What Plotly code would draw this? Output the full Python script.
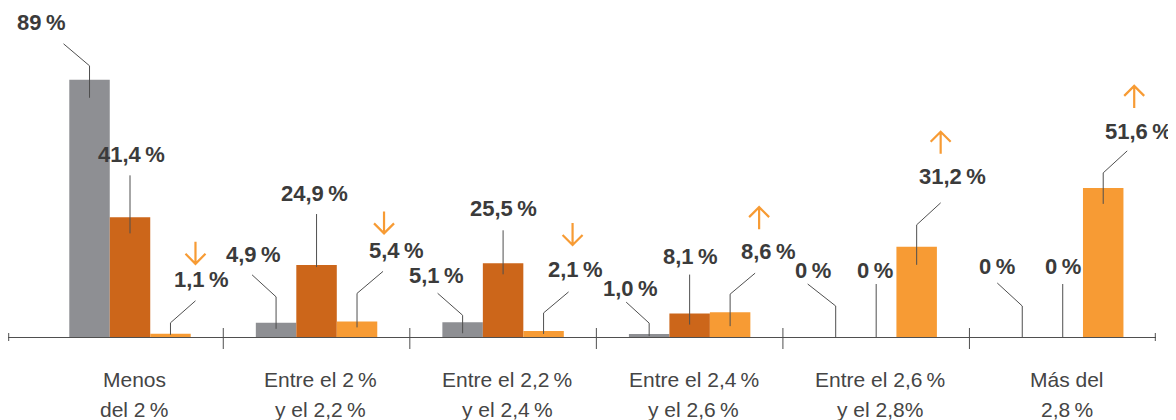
import plotly.graph_objects as go

# ---------------- data ----------------
CATEGORIES = [
    "Menos<br>del 2\u2009%",
    "Entre el 2\u2009%<br>y el 2,2\u2009%",
    "Entre el 2,2\u2009%<br>y el 2,4\u2009%",
    "Entre el 2,4\u2009%<br>y el 2,6\u2009%",
    "Entre el 2,6\u2009%<br>y el 2,8%",
    "Más del<br>2,8\u2009%",
]
GRAY_VALUES = [89, 4.9, 5.1, 1.0, 0, 0]
DARK_VALUES = [41.4, 24.9, 25.5, 8.1, 0, 0]
LIGHT_VALUES = [1.1, 5.4, 2.1, 8.6, 31.2, 51.6]

GRAY_LABELS = ["89\u2009%", "4,9\u2009%", "5,1\u2009%", "1,0\u2009%", "0\u2009%", "0\u2009%"]
DARK_LABELS = ["41,4\u2009%", "24,9\u2009%", "25,5\u2009%", "8,1\u2009%", "0\u2009%", "0\u2009%"]
LIGHT_LABELS = ["1,1\u2009%", "5,4\u2009%", "2,1\u2009%", "8,6\u2009%", "31,2\u2009%", "51,6\u2009%"]
LIGHT_TREND = ["down", "down", "down", "up", "up", "up"]

# ---------------- styles / geometry ----------------
COL_GRAY = "#8e8f93"
COL_DARK = "#cc661a"
COL_LIGHT = "#f79b34"
TEXT_COL = "#3b3b3b"
CAT_COL = "#454545"
LINE_COL = "#4f4f4f"
FONT = "Liberation Sans, Arial, sans-serif"

# the page body adds an 8px margin, so the figure is 8px smaller and
# all figure pixel positions are page positions minus 8
W, H = 1168, 412
PLOT_L, PLOT_R = 0, 1148
X_RANGE = (-0.654, 5.5)
PXX = (PLOT_R - PLOT_L) / (X_RANGE[1] - X_RANGE[0])  # px per x unit
BASE_PX = 329          # pixel row of the zero line (figure coords)
PXY = 2.89             # px per percentage point
Y_RANGE = (-(H - BASE_PX) / PXY, BASE_PX / PXY)
BARGAP = 0.349
BW = (1 - BARGAP) / 3

# label layout, pixel offsets relative to (bar centre, bar top); y positive = up
GRAY_POS = [
    dict(line=[(0, -18), (0, 14), (-26, 36)], text=(-49, 57)),
    dict(line=[(0, -6), (0, 26), (-24, 48)], text=(-23, 68)),
    dict(line=[(0, -11), (0, 7), (-25, 29)], text=(-26, 47)),
    dict(line=[(0, -2), (0, 11), (-23, 32)], text=(-19, 46)),
    dict(line=[(0, 0), (0, 31), (-28, 53)], text=(-23, 67)),
    dict(line=[(0, 0), (0, 31), (-25, 54)], text=(-25, 71)),
]
DARK_POS = [
    dict(line=[(0, -16), (0, 42)], text=(1, 63)),
    dict(line=[(0, -2), (0, 51)], text=(-2, 72)),
    dict(line=[(0, -11), (0, 33)], text=(0, 55)),
    dict(line=[(0, -11), (0, 39)], text=(1, 57)),
    dict(line=[(0, 0), (0, 53)], text=(-1, 67)),
    dict(line=[(0, 0), (0, 53)], text=(0, 71)),
]
LIGHT_POS = [
    dict(line=[(0, -1), (0, 11), (25, 33)], text=(31, 54), arrow=(25, 81)),
    dict(line=[(0, -6), (0, 28), (26, 50)], text=(39, 71), arrow=(27, 99)),
    dict(line=[(0, -3), (0, 18), (25, 39)], text=(32, 61), arrow=(29, 97)),
    dict(line=[(0, -14), (0, 18), (25, 39)], text=(38, 61), arrow=(29, 94)),
    dict(line=[(0, -18), (0, 22), (24, 44)], text=(36, 70), arrow=(24, 104)),
    dict(line=[(0, -16), (0, 15), (24, 37)], text=(35, 56), arrow=(31, 91)),
]


def bx(i, k, dpx=0.0):
    """x data coordinate of bar k (0..2) in category i, shifted by dpx pixels."""
    return i + (k - 1) * BW + dpx / PXX


def by(v, dpx=0.0):
    return v + dpx / PXY


fig = go.Figure()
for k, (vals, col) in enumerate([(GRAY_VALUES, COL_GRAY), (DARK_VALUES, COL_DARK), (LIGHT_VALUES, COL_LIGHT)]):
    fig.add_trace(go.Bar(
        x=list(range(len(CATEGORIES))), y=vals,
        marker=dict(color=col, line=dict(width=0)),
        hoverinfo="skip", showlegend=False,
    ))

shapes = []
annotations = []

series = [
    (GRAY_VALUES, GRAY_LABELS, GRAY_POS),
    (DARK_VALUES, DARK_LABELS, DARK_POS),
    (LIGHT_VALUES, LIGHT_LABELS, LIGHT_POS),
]
for k, (vals, labels, poss) in enumerate(series):
    for i, (v, lab, pos) in enumerate(zip(vals, labels, poss)):
        pts = [(bx(i, k, dx), by(v, dy)) for dx, dy in pos["line"]]
        path = "M " + " L ".join(f"{x},{y}" for x, y in pts)
        shapes.append(dict(type="path", path=path, xref="x", yref="y",
                           line=dict(color=LINE_COL, width=1), layer="above"))
        tx, ty = pos["text"]
        annotations.append(dict(
            x=bx(i, k, tx), y=by(v, ty), xref="x", yref="y",
            text=f"<b>{lab}</b>", showarrow=False,
            xanchor="center", yanchor="middle",
            font=dict(family=FONT, size=22, color=TEXT_COL),
        ))
        if "arrow" in pos:
            ax, ay = pos["arrow"]
            cx = bx(i, k, ax)
            if LIGHT_TREND[i] == "down":
                tip, tail, back = by(v, ay - 11), by(v, ay + 11), by(v, ay - 1)
            else:
                tip, tail, back = by(v, ay + 11), by(v, ay - 11), by(v, ay + 1)
            hw = 10 / PXX
            apath = (f"M {cx},{tail} L {cx},{tip} "
                     f"M {cx - hw},{back} L {cx},{tip} L {cx + hw},{back}")
            shapes.append(dict(type="path", path=apath, xref="x", yref="y",
                               line=dict(color=COL_LIGHT, width=2.2)))

# category dividers and axis end ticks
for i in range(len(CATEGORIES) - 1):
    shapes.append(dict(type="line", xref="x", yref="y",
                       x0=i + 0.5, x1=i + 0.5, y0=by(0, -12), y1=by(0, 9),
                       line=dict(color=LINE_COL, width=1)))
for xe in (X_RANGE[0] + 0.7 / PXX, X_RANGE[1] - 0.7 / PXX):
    shapes.append(dict(type="line", xref="x", yref="y",
                       x0=xe, x1=xe, y0=by(0, -4), y1=by(0, 4),
                       line=dict(color=LINE_COL, width=1)))

# category labels (two lines each)
for i, cat in enumerate(CATEGORIES):
    for j, line in enumerate(cat.split("<br>")):
        annotations.append(dict(
            x=i + 4 / PXX, y=by(0, -42 - 30 * j), xref="x", yref="y",
            text=line, showarrow=False, xanchor="center", yanchor="middle",
            font=dict(family=FONT, size=21, color=CAT_COL),
        ))

fig.update_layout(
    width=W, height=H,
    margin=dict(l=PLOT_L, r=W - PLOT_R, t=0, b=0),
    paper_bgcolor="white", plot_bgcolor="white",
    barmode="group", bargap=BARGAP, bargroupgap=0,
    xaxis=dict(range=list(X_RANGE), showgrid=False, zeroline=False,
               showticklabels=False, showline=False, ticks="", fixedrange=True),
    yaxis=dict(range=list(Y_RANGE), showgrid=False, zeroline=True,
               zerolinecolor=LINE_COL, zerolinewidth=1,
               showticklabels=False, showline=False, ticks="", fixedrange=True),
    shapes=shapes, annotations=annotations,
    font=dict(family=FONT),
)

fig.write_html("out.html")
